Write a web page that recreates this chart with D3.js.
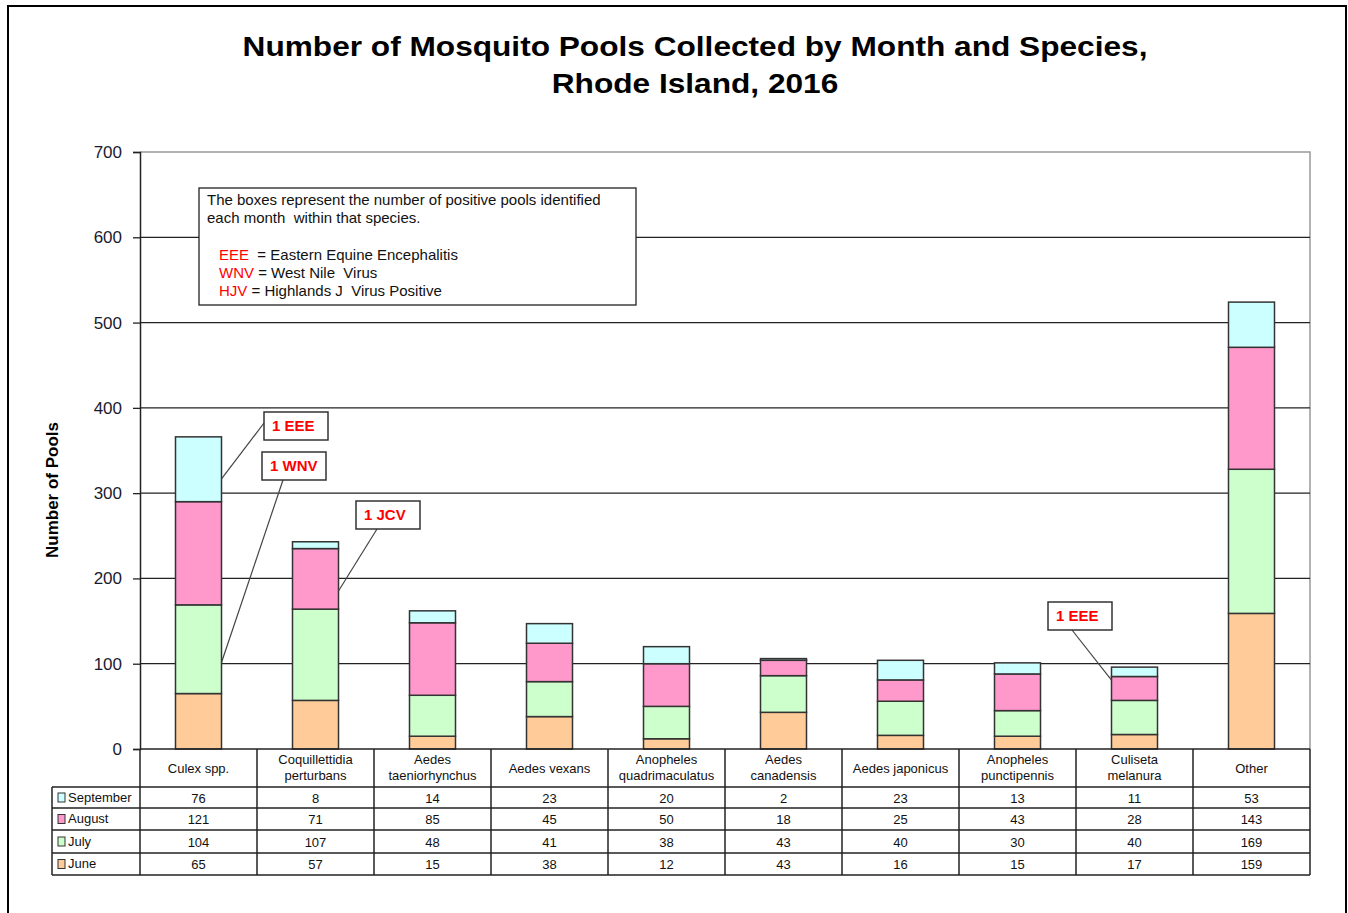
<!DOCTYPE html>
<html><head><meta charset="utf-8">
<script src="https://cdn.jsdelivr.net/npm/d3@7"></script>
<style>body{margin:0;background:#fff}svg{display:block;font-family:Arial,"Liberation Sans",sans-serif}</style>
</head><body>
<svg id="c" width="1348" height="913"></svg>
<script>
const categories = [["Culex spp."],["Coquillettidia","perturbans"],["Aedes","taeniorhynchus"],["Aedes vexans"],["Anopheles","quadrimaculatus"],["Aedes","canadensis"],["Aedes japonicus"],["Anopheles","punctipennis"],["Culiseta","melanura"],["Other"]];
const months = ["June","July","August","September"];
const june = [65,57,15,38,12,43,16,15,17,159];
const july = [104,107,48,41,38,43,40,30,40,169];
const august = [121,71,85,45,50,18,25,43,28,143];
const september = [76,8,14,23,20,2,23,13,11,53];
const monthColors = ["#FFCC99","#CCFFCC","#FF99CC","#CCFFFF"];
const yTicks = [0,100,200,300,400,500,600,700];
const title = ["Number of Mosquito Pools Collected by Month and Species,","Rhode Island, 2016"];
const noteLines = ["The boxes represent the number of positive pools identified","each month  within that species."];
const defs = [["EEE","  = Eastern Equine Encephalitis"],["WNV"," = West Nile  Virus"],["HJV"," = Highlands J  Virus Positive"]];
const annotations = [
  {label:"1 EEE", cat:0, month:3, frac:0.35, side:"right", box:[264,412]},
  {label:"1 WNV", cat:0, month:1, frac:0.35, side:"right", box:[262,452]},
  {label:"1 JCV", cat:1, month:2, frac:0.3, side:"right", box:[356,501]},
  {label:"1 EEE", cat:8, month:2, frac:0.85, side:"left", box:[1048,602]}
];

const series = [june, july, august, september];
const svg = d3.select("#c");
const L=140, R=1310, T=152, B=749;
const x = d3.scaleBand().domain(d3.range(categories.length)).range([L,R]).paddingInner(0).paddingOuter(0);
const y = d3.scaleLinear().domain([0,700]).range([B,T]);
const barW = 46;

// outer frame
svg.append("rect").attr("x",8).attr("y",6).attr("width",1338).attr("height",940).attr("fill","none").attr("stroke","#000").attr("stroke-width",2);

// title (horizontally stretched to match reference glyph widths)
svg.append("g").attr("transform","translate(695,0) scale(1.13,1)")
  .selectAll("text").data(title).join("text")
  .attr("x",0).attr("y",(d,i)=>56+i*37).attr("text-anchor","middle")
  .attr("font-size",28).attr("font-weight","bold").attr("fill","#000").text(d=>d);

// plot border (top/right gray)
svg.append("path").attr("d",`M${L},${T}H${R}V${B}`).attr("fill","none").attr("stroke","#999").attr("stroke-width",1.5);
// gridlines
svg.append("g").selectAll("line").data(yTicks.filter(t=>t>0&&t<700)).join("line")
  .attr("x1",L).attr("x2",R).attr("y1",d=>y(d)).attr("y2",d=>y(d)).attr("stroke","#222").attr("stroke-width",1.2);

// y axis
const ya = svg.append("g").attr("transform",`translate(${L},0)`).call(d3.axisLeft(y).tickValues(yTicks).tickSize(7).tickPadding(11).tickFormat(d3.format("d")));
ya.select(".domain").attr("stroke","#222").attr("stroke-width",1.5);
ya.selectAll(".tick line").attr("stroke","#222").attr("stroke-width",1.3);
ya.selectAll("text").attr("font-size",17).attr("fill","#1a1a2e").attr("font-family","Arial, Liberation Sans, sans-serif");

svg.append("text").attr("transform","translate(58,490) rotate(-90)").attr("text-anchor","middle")
  .attr("font-size",17).attr("font-weight","bold").text("Number of Pools");

// stacked bars
const stackData = categories.map((c,i)=>{const o={i}; months.forEach((m,k)=>o[m]=series[k][i]); return o;});
const stacked = d3.stack().keys(months)(stackData);
svg.append("g").selectAll("g").data(stacked).join("g").attr("fill",(d,k)=>monthColors[k])
  .selectAll("rect").data(d=>d).join("rect")
  .attr("x",d=>x(d.data.i)+x.bandwidth()/2-barW/2).attr("width",barW)
  .attr("y",d=>y(d[1])).attr("height",d=>y(d[0])-y(d[1]))
  .attr("stroke","#333").attr("stroke-width",1.5);
// x baseline
svg.append("line").attr("x1",L).attr("x2",R).attr("y1",B).attr("y2",B).attr("stroke","#222").attr("stroke-width",1.5);

// legend note box
const nb = svg.append("g");
nb.append("rect").attr("x",199).attr("y",188).attr("width",437).attr("height",117).attr("fill","#fff").attr("stroke","#222").attr("stroke-width",1.3);
nb.selectAll("text.n").data(noteLines).join("text").attr("class","n").attr("x",207).attr("y",(d,i)=>205+i*18).attr("font-size",15).attr("fill","#111").style("white-space","pre").text(d=>d);
defs.forEach((d,i)=>{
  const t = nb.append("text").attr("x",219).attr("y",260+i*18).attr("font-size",15).style("white-space","pre");
  t.append("tspan").attr("fill","#FF0000").text(d[0]);
  t.append("tspan").attr("fill","#111").text(d[1]);
});

// annotations
const ag = svg.append("g");
annotations.forEach(a=>{
  const s = stacked[a.month][a.cat];
  const cx = x(a.cat)+x.bandwidth()/2;
  const px = a.side==="right" ? cx+barW/2 : cx-barW/2;
  const py = y(s[0]+(s[1]-s[0])*a.frac);
  const bw=64, bh=28;
  let lx, ly;
  if(a.label==="1 EEE" && a.cat===0){ lx=a.box[0]; ly=a.box[1]+11; }
  else { lx=a.box[0]+(a.side==="right"?21:24); ly=a.box[1]+bh; }
  ag.append("line").attr("x1",px).attr("y1",py).attr("x2",lx).attr("y2",ly).attr("stroke","#444").attr("stroke-width",1.2);
  ag.append("rect").attr("x",a.box[0]).attr("y",a.box[1]).attr("width",bw).attr("height",bh).attr("fill","#fff").attr("stroke","#333").attr("stroke-width",1.5);
  ag.append("text").attr("x",a.box[0]+8).attr("y",a.box[1]+19).attr("font-size",15).attr("font-weight","bold").attr("fill","#FF0000").text(a.label);
});

// data table
const tg = svg.append("g");
const headT=749, headB=787;
const rowTops = [787,808,830,853];
const tableBottom = 875;
categories.forEach((c,i)=>{
  const cx = x(i)+x.bandwidth()/2;
  const t = tg.append("text").attr("text-anchor","middle").attr("font-size",13).attr("fill","#111");
  if(c.length===1) t.append("tspan").attr("x",cx).attr("y",773).text(c[0]);
  else c.forEach((ln,k)=>t.append("tspan").attr("x",cx).attr("y",764+k*16).text(ln));
});
const rowOrder = [3,2,1,0];
rowOrder.forEach((k,r)=>{
  const top = rowTops[r], bot = r<3?rowTops[r+1]:tableBottom;
  const cy = (top+bot)/2+5;
  tg.append("rect").attr("x",58).attr("y",cy-9.5).attr("width",7).attr("height",9).attr("fill",monthColors[k]).attr("stroke","#333").attr("stroke-width",1);
  tg.append("text").attr("x",68).attr("y",cy-1).attr("font-size",13).attr("fill","#111").text(months[k]);
  series[k].forEach((v,i)=>{
    tg.append("text").attr("x",x(i)+x.bandwidth()/2).attr("y",cy).attr("text-anchor","middle").attr("font-size",13).attr("fill","#111").text(v);
  });
});
const gl = tg.append("g").attr("stroke","#222").attr("stroke-width",1.5);
x.domain().forEach(i=>{ gl.append("line").attr("x1",x(i)).attr("x2",x(i)).attr("y1",headT).attr("y2",tableBottom); });
gl.append("line").attr("x1",R).attr("x2",R).attr("y1",headT).attr("y2",tableBottom);
gl.append("line").attr("x1",L).attr("x2",R).attr("y1",headB).attr("y2",headB);
gl.append("line").attr("x1",52).attr("x2",52).attr("y1",headB).attr("y2",tableBottom);
gl.append("line").attr("x1",52).attr("x2",L).attr("y1",headB).attr("y2",headB);
rowTops.slice(1).concat([tableBottom]).forEach(yy=>gl.append("line").attr("x1",52).attr("x2",R).attr("y1",yy).attr("y2",yy));
</script>
</body></html>
